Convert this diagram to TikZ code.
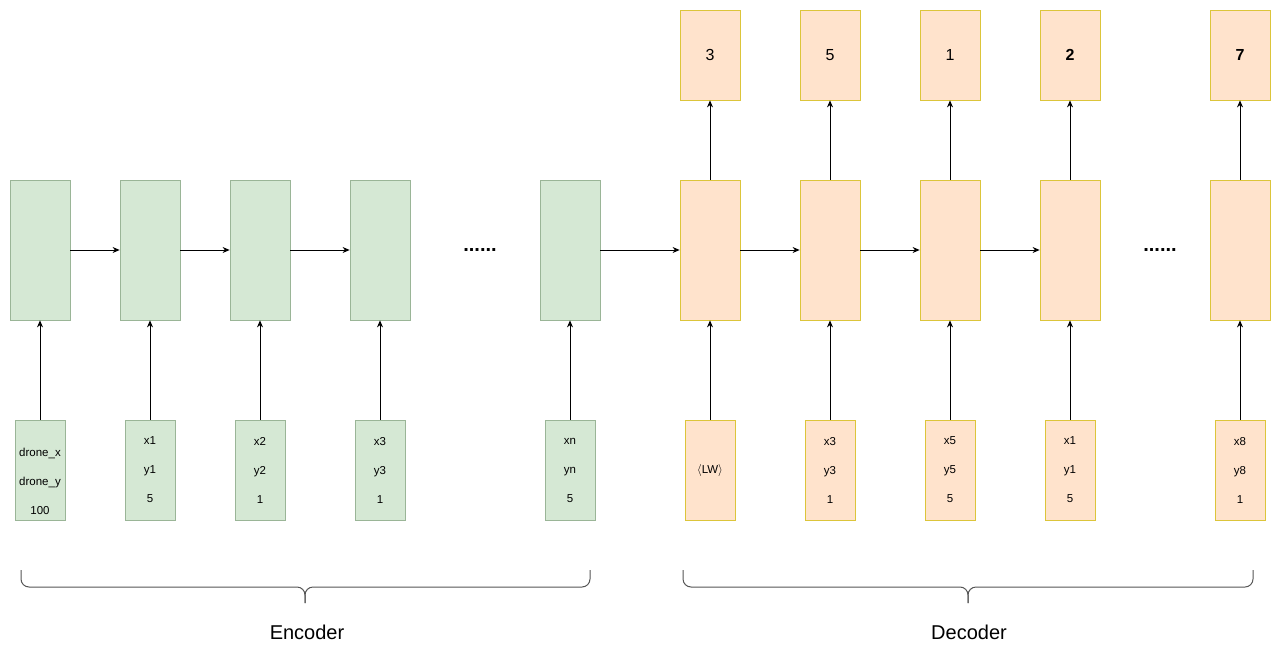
\documentclass[tikz,border=0pt]{standalone}
\usepackage{fontspec}
\setmainfont{Liberation Sans}
\usetikzlibrary{arrows.meta}
\definecolor{gfill}{HTML}{D5E8D4}
\definecolor{gdraw}{HTML}{9AB597}
\definecolor{ofill}{HTML}{FFE3CC}
\definecolor{odraw}{HTML}{DCC53A}
\definecolor{brc}{HTML}{555555}
\tikzset{
  x=1pt, y=-1pt,
  encmid/.style={draw=gdraw, fill=gfill, line width=0.8pt, minimum width=60pt, minimum height=140pt, inner sep=0pt},
  encin/.style={draw=gdraw, fill=gfill, line width=0.8pt, minimum width=50pt, minimum height=100pt, inner sep=0pt, align=center, font=\fontsize{11.5}{29}\selectfont},
  decmid/.style={draw=odraw, fill=ofill, line width=0.8pt, minimum width=60pt, minimum height=140pt, inner sep=0pt},
  decin/.style={draw=odraw, fill=ofill, line width=0.8pt, minimum width=50pt, minimum height=100pt, inner sep=0pt, align=center, font=\fontsize{11.5}{29}\selectfont},
  decout/.style={draw=odraw, fill=ofill, line width=0.8pt, minimum width=60pt, minimum height=90pt, inner sep=0pt, font=\fontsize{16}{18}\selectfont},
  intext/.style={align=center, font=\fontsize{11.5}{29}\selectfont, inner sep=0pt},
  conn/.style={line width=0.8pt, -{Stealth[length=7pt,width=6pt]}},
  dots/.style={font=\fontsize{20}{22}\selectfont\bfseries, inner sep=0pt},
  brc/.style={draw=brc, line width=1pt, rounded corners=8pt},
  lbl/.style={font=\fontsize{20}{24}\selectfont, inner sep=0pt}
}
\begin{document}
\begin{tikzpicture}
\useasboundingbox (0,0) rectangle (1281,661);
% encoder middle
\node[encmid] (e1) at (40,250) {};
\node[encmid] (e2) at (150,250) {};
\node[encmid] (e3) at (260,250) {};
\node[encmid] (e4) at (380,250) {};
\node[encmid] (e5) at (570,250) {};
% encoder inputs
\node[encin] (ei1) at (40,470) {};
\node[intext] (ei1t) at (40,481) {drone\_x\\drone\_y\\100};
\node[encin] (ei2) at (150,470) {x1\\y1\\5};
\node[encin] (ei3) at (260,470) {x2\\y2\\1};
\node[encin] (ei4) at (380,470) {x3\\y3\\1};
\node[encin] (ei5) at (570,470) {xn\\yn\\5};
% decoder middle
\node[decmid] (d1) at (710,250) {};
\node[decmid] (d2) at (830,250) {};
\node[decmid] (d3) at (950,250) {};
\node[decmid] (d4) at (1070,250) {};
\node[decmid] (d5) at (1240,250) {};
% decoder inputs
\node[decin] (di1) at (710,470) {$\langle$LW$\rangle$};
\node[decin] (di2) at (830,470) {x3\\y3\\1};
\node[decin] (di3) at (950,470) {x5\\y5\\5};
\node[decin] (di4) at (1070,470) {x1\\y1\\5};
\node[decin] (di5) at (1240,470) {x8\\y8\\1};
% decoder outputs
\node[decout] (do1) at (710,55) {3};
\node[decout] (do2) at (830,55) {5};
\node[decout] (do3) at (950,55) {1};
\node[decout] (do4) at (1070,55) {\bfseries 2};
\node[decout] (do5) at (1240,55) {\bfseries 7};
% dots
\node[dots] (dots1) at (480,250) {......};
\node[dots] (dots2) at (1160,250) {......};
% vertical connectors
\foreach \i in {1,...,5} {
  \draw[conn] (ei\i) -- (e\i);
  \draw[conn] (di\i) -- (d\i);
  \draw[conn] (d\i) -- (do\i);
}
% horizontal connectors
\draw[conn] (e1) -- (e2);
\draw[conn] (e2) -- (e3);
\draw[conn] (e3) -- (e4);
\draw[conn] (e5) -- (d1);
\draw[conn] (d1) -- (d2);
\draw[conn] (d2) -- (d3);
\draw[conn] (d3) -- (d4);
% braces
\coordinate (b1s) at (21,570);
\coordinate (b1e) at (590,570);
\coordinate (b1t) at (305,603);
\coordinate (b2s) at (683,570);
\coordinate (b2e) at (1253,570);
\coordinate (b2t) at (968,603);
\draw[brc] (b1s) -- (21,587) -- (305,587) -- (b1t);
\draw[brc] (b1e) -- (590,587) -- (305,587) -- (b1t);
\draw[brc] (b2s) -- (683,587) -- (968,587) -- (b2t);
\draw[brc] (b2e) -- (1253,587) -- (968,587) -- (b2t);
\node[lbl] (enc) at (307,632) {Encoder};
\node[lbl] (dec) at (969,632) {Decoder};
\end{tikzpicture}
\end{document}
